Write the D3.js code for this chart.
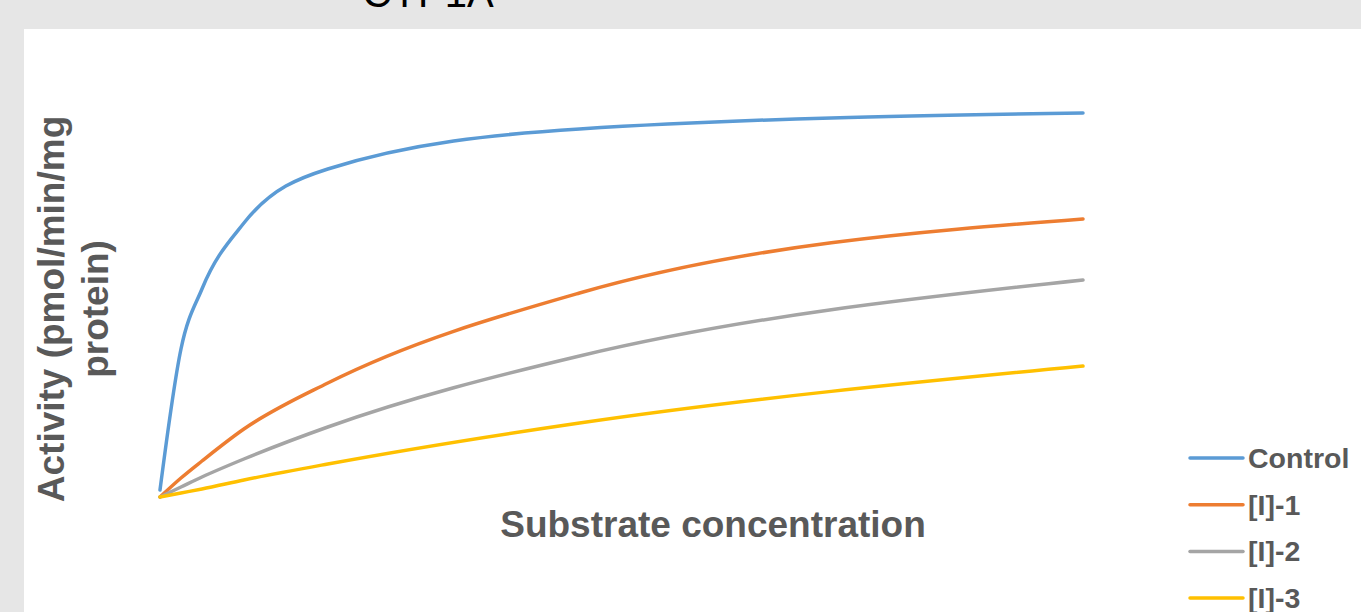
<!DOCTYPE html>
<html>
<head>
<meta charset="utf-8">
<script src="https://cdn.jsdelivr.net/npm/d3@7"></script>
<style>
  body { margin: 0; background: #e6e6e6; }
  text { font-family: "Liberation Sans", Arial, sans-serif; }
</style>
</head>
<body>
<div id="chart"></div>
<script>
// Daten
const konzentration = [0, 0.25, 0.5, 1, 2, 5, 11];
const control = [1.75, 37, 52, 68.5, 82, 92, 96];
const inhib1 = [0, 4.75, 9, 17, 28.5, 51, 69.5];
const inhib2 = [0, 2.5, 5, 9.5, 17.5, 35.25, 54.25];
const inhib3 = [0, 1, 2, 4.25, 8.25, 18.5, 32.75];
const serienNamen = ["Control", "[I]-1", "[I]-2", "[I]-3"];
const farben = ["#5b9bd5", "#ed7d31", "#a5a5a5", "#ffc000"];

const W = 1361, H = 612;

const svg = d3.select("#chart")
    .append("svg")
    .attr("width", W)
    .attr("height", H);

// Hintergrund + weiße Zeichenfläche
svg.append("rect").attr("width", W).attr("height", H).attr("fill", "#e6e6e6");
svg.append("rect").attr("x", 24).attr("y", 29).attr("width", W - 24).attr("height", H - 29).attr("fill", "#fff");

// Titel (oben abgeschnitten)
svg.append("text")
    .attr("x", 428).attr("y", 7)
    .attr("text-anchor", "middle")
    .style("font-size", "40px")
    .style("fill", "#000")
    .text("CYP1A");

// Skalen
const x = d3.scaleLinear().domain([0, 11]).range([160, 1083]);
const y = d3.scaleLinear().domain([0, 100]).range([497, 97]);

const serien = [control, inhib1, inhib2, inhib3];

const line = d3.line()
    .x((d, i) => x(konzentration[i]))
    .y(d => y(d))
    .curve(d3.curveMonotoneX);

svg.selectAll("path.serie")
    .data(serien)
    .enter()
    .append("path")
    .attr("class", "serie")
    .attr("d", line)
    .attr("fill", "none")
    .attr("stroke", (d, i) => farben[i])
    .attr("stroke-width", 3.5)
    .attr("stroke-linecap", "round");

// Achsentitel
svg.append("text")
    .attr("x", 713).attr("y", 537)
    .attr("text-anchor", "middle")
    .style("font-size", "37px")
    .style("font-weight", "bold")
    .style("fill", "#595959")
    .text("Substrate concentration");

const yTitel = svg.append("text")
    .attr("transform", "translate(64,309) rotate(-90)")
    .attr("text-anchor", "middle")
    .style("font-size", "37px")
    .style("font-weight", "bold")
    .style("fill", "#595959");
yTitel.append("tspan").attr("x", 0).attr("y", 0).text("Activity (pmol/min/mg");
yTitel.append("tspan").attr("x", 0).attr("y", 44).text("protein)");

// Legende
const legende = svg.selectAll("g.leg")
    .data(serienNamen)
    .enter()
    .append("g")
    .attr("class", "leg")
    .attr("transform", (d, i) => `translate(1190,${458 + i * 46.7})`);

legende.append("line")
    .attr("x1", 0).attr("x2", 53)
    .attr("stroke", (d, i) => farben[i])
    .attr("stroke-width", 3.5)
    .attr("stroke-linecap", "round");

legende.append("text")
    .attr("x", 58).attr("y", 10)
    .style("font-size", "28.5px")
    .style("font-weight", "bold")
    .style("fill", "#595959")
    .text(d => d);
</script>
</body>
</html>
